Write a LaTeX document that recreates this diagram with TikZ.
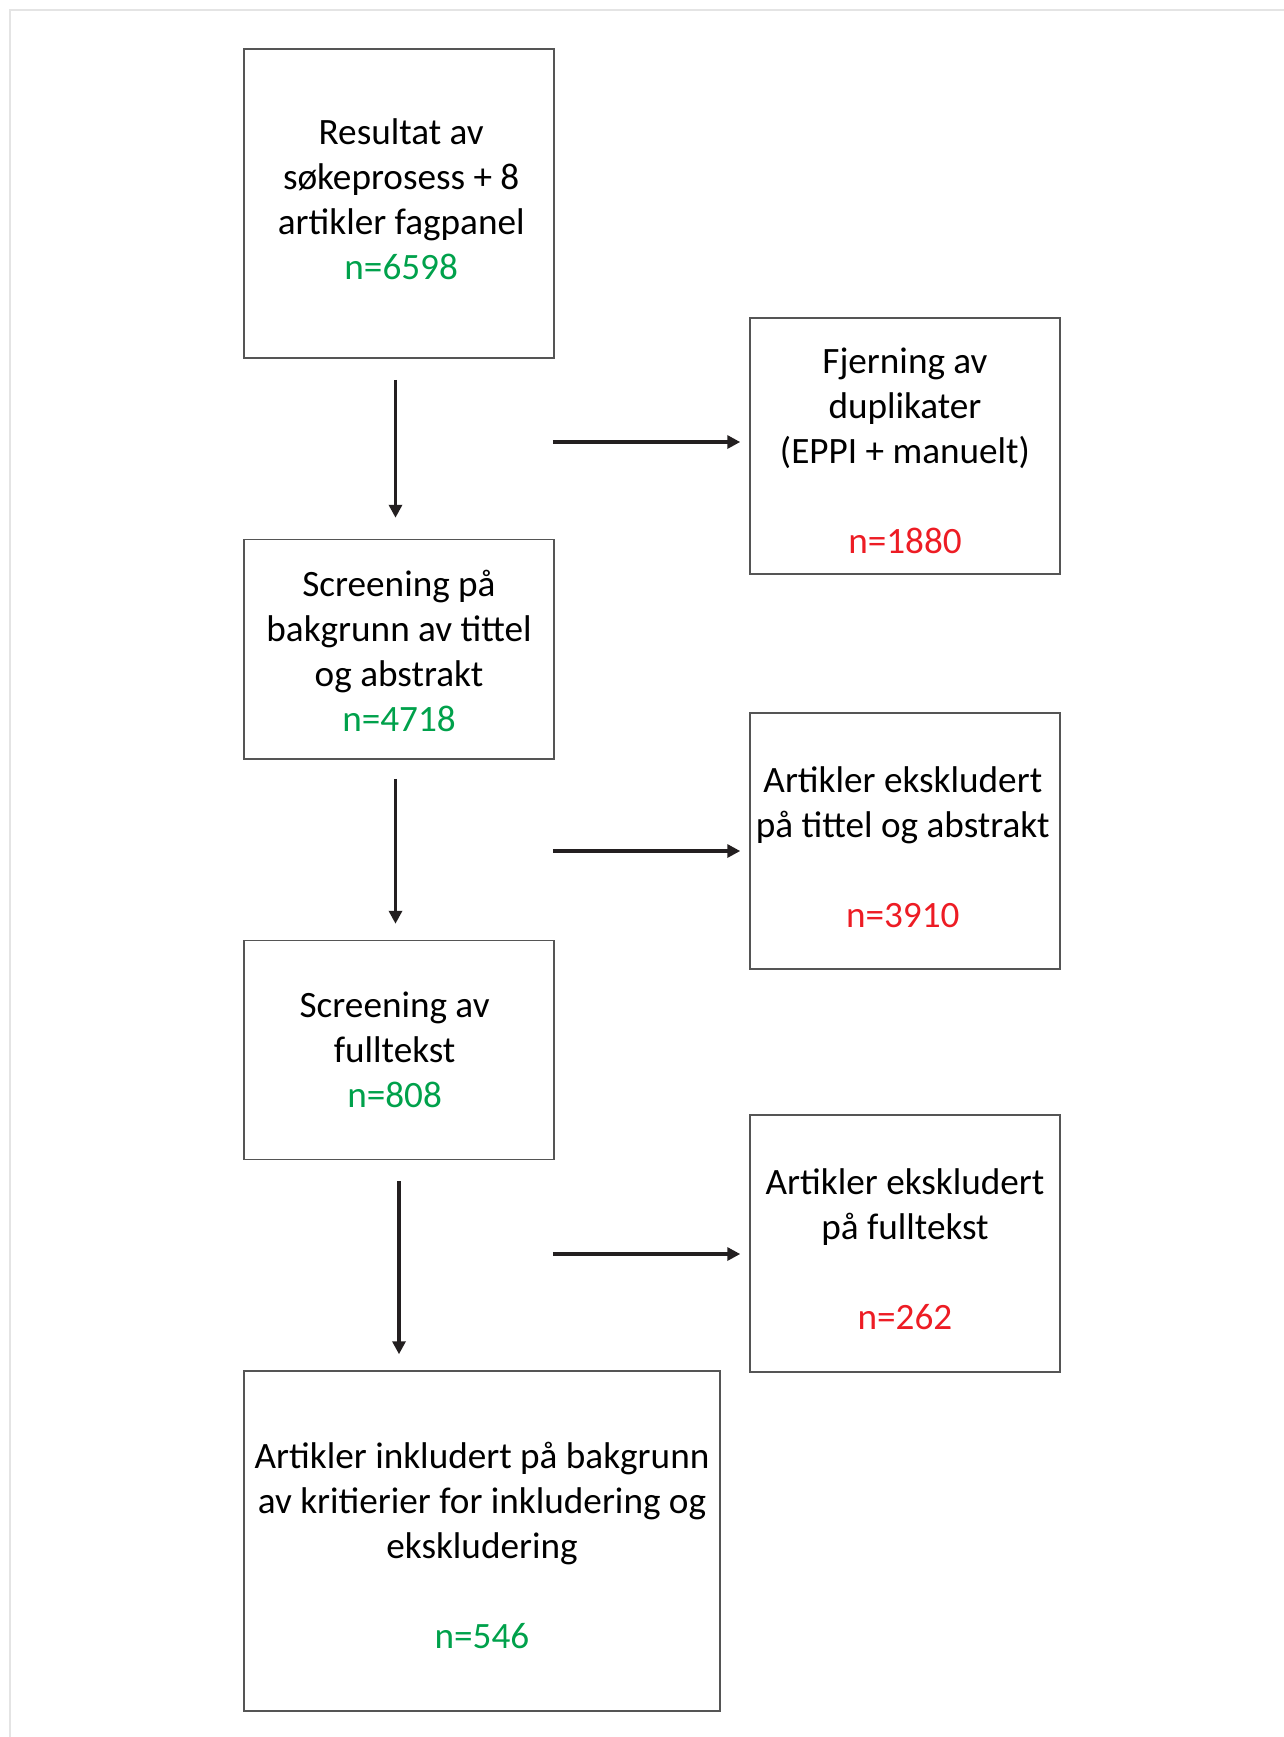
\documentclass[tikz,border=0pt]{standalone}
\usepackage{fontspec}
\setmainfont{Carlito}
\usetikzlibrary{positioning,arrows.meta}
\definecolor{ngreen}{RGB}{0,161,75}
\definecolor{nred}{RGB}{237,28,36}
\definecolor{boxline}{RGB}{85,85,85}
\definecolor{arrline}{RGB}{35,31,32}
\definecolor{frameline}{RGB}{228,228,228}

\begin{document}
\begin{tikzpicture}[x=0.5pt,y=-0.5pt,node distance=90pt,
	box/.style={draw=boxline,line width=0.75pt,minimum width=155pt,inner sep=0pt},
	txt/.style={align=center,inner sep=0pt,font=\fontsize{18.6pt}{22.5pt}\selectfont},
	flow/.style={draw=arrline,line width=1.7pt,-{Triangle[length=6.5pt,width=6.5pt]}}]
		\useasboundingbox (0,0) rectangle (1284,1737);
		\draw[frameline,line width=1pt] (10,1737) -- (10,10) -- (1284,10);

		\node[box,minimum height=154.5pt,label={[txt,xshift=1.1pt,yshift=2.2pt]center:{Resultat av\\søkeprosess + 8\\artikler fagpanel\\\textcolor{ngreen}{n=6598}}}] (res) at (399,203.5) {};
		\node[box,minimum height=109.75pt,label={[txt,yshift=-0.8pt]center:{Screening på\\bakgrunn av tittel\\og abstrakt\\\textcolor{ngreen}{n=4718}}}] (tit) [below=90pt of res] {};
		\node[box,minimum height=109.5pt,label={[txt,xshift=-2.2pt]center:{Screening av\\fulltekst\\\textcolor{ngreen}{n=808}}}] (ful) [below=90pt of tit] {};
		\node[box,minimum width=238pt,minimum height=170pt,anchor=north west,label={[txt,yshift=-2.2pt]center:{Artikler inkludert på bakgrunn\\av kritierier for inkludering og\\ekskludering\\~\\\textcolor{ngreen}{n=546}}}] (inc) at ([yshift=-105pt]ful.south west) {};

		\node[box,minimum height=128pt,label={[txt,yshift=-2.5pt]center:{Fjerning av\\duplikater\\(EPPI + manuelt)\\~\\\textcolor{nred}{n=1880}}}] (dup) at (905,446) {};
		\node[box,minimum height=128pt,label={[txt,xshift=-1.1pt,yshift=-3.3pt]center:{Artikler ekskludert\\på tittel og abstrakt\\~\\\textcolor{nred}{n=3910}}}] (exT) at (905,841) {};
		\node[box,minimum height=128.5pt,label={[txt,yshift=-2.8pt]center:{Artikler ekskludert\\på fulltekst\\~\\\textcolor{nred}{n=262}}}] (exF) at (905,1243.5) {};

		% nedover
		\draw[flow,shorten <=10.5pt,shorten >=10.5pt] ([xshift=-1.75pt]res.south) -- ([xshift=-1.75pt]tit.north);
		\draw[flow,shorten <=9.5pt,shorten >=8pt] ([xshift=-1.75pt]tit.south) -- ([xshift=-1.75pt]ful.north);
		\draw[flow,shorten <=10.5pt,shorten >=8pt] (ful.south) -- (ful.south |- inc.north);

		% til siden
		\coordinate (a1) at ([yshift=2pt]dup.west);
		\coordinate (a2) at ([yshift=-5pt]exT.west);
		\coordinate (a3) at ([yshift=-5.25pt]exF.west);
		\draw[flow,shorten <=-1pt,shorten >=4.5pt] (a1 -| res.east) -- (a1);
		\draw[flow,shorten <=-1pt,shorten >=4.5pt] (a2 -| tit.east) -- (a2);
		\draw[flow,shorten <=-1pt,shorten >=4.5pt] (a3 -| ful.east) -- (a3);
\end{tikzpicture}
\end{document}
